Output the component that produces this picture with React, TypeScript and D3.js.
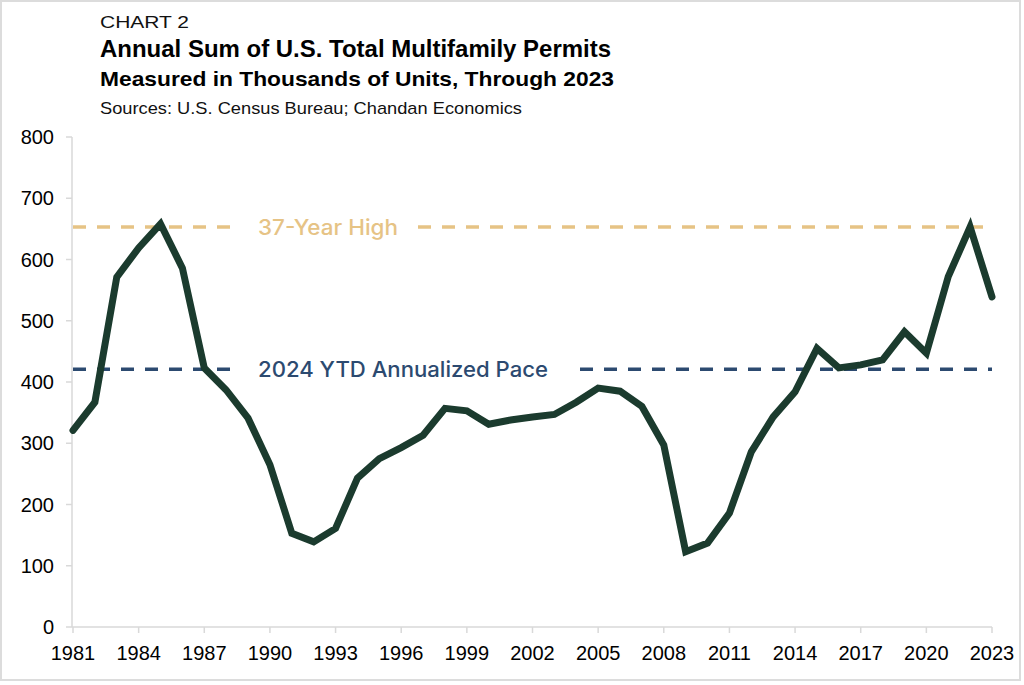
import React from "react";
import * as d3 from "d3";

const years: number[] = [
  1981, 1982, 1983, 1984, 1985, 1986, 1987, 1988, 1989, 1990, 1991, 1992, 1993, 1994,
  1995, 1996, 1997, 1998, 1999, 2000, 2001, 2002, 2003, 2004, 2005, 2006, 2007, 2008,
  2009, 2010, 2011, 2012, 2013, 2014, 2015, 2016, 2017, 2018, 2019, 2020, 2021, 2022, 2023,
];
const permits: number[] = [
  321, 367, 571, 619, 658, 586, 423, 387, 341, 265, 153, 139, 161, 243,
  275, 293, 313, 357, 353, 331, 338, 343, 347, 367, 390, 385, 360, 297,
  123, 137, 186, 286, 343, 384, 455, 423, 428, 436, 482, 447, 572, 653, 539,
];
const yTicks: number[] = [0, 100, 200, 300, 400, 500, 600, 700, 800];
const xTickYears: number[] = [1981, 1984, 1987, 1990, 1993, 1996, 1999, 2002, 2005, 2008, 2011, 2014, 2017, 2020, 2023];
const highValue = 653;
const ytdValue = 421;

const W = 1024;
const H = 685;
const FONT = "'Liberation Sans', Arial, Helvetica, sans-serif";
const LABEL_FONT = "Inter, 'Liberation Sans', Arial, sans-serif";

export default function App() {
  const x = d3.scaleLinear().domain([1981, 2023]).range([73, 992]);
  const y = d3.scaleLinear().domain([0, 800]).range([627, 137]);
  const line = d3
    .line<number>()
    .x((_, i) => x(years[i]))
    .y((d) => y(d));
  const path = line(permits) || "";

  const refLine = (
    val: number,
    color: string,
    label: string,
    labelWidth: number,
    gapStart: number,
    gapEnd: number
  ) => (
    <g>
      <line x1={x(1981)} x2={gapStart} y1={y(val)} y2={y(val)} stroke={color} strokeWidth={3.5} strokeDasharray="13 11" />
      <line x1={gapEnd} x2={x(2023)} y1={y(val)} y2={y(val)} stroke={color} strokeWidth={3.5} strokeDasharray="13 11" />
      <text
        x={258}
        y={y(val) + 8}
        fill={color}
        fontSize={21}
        fontWeight={500}
        fontFamily={LABEL_FONT}
        textLength={labelWidth}
        lengthAdjust="spacingAndGlyphs"
      >
        {label}
      </text>
    </g>
  );

  return (
    <div style={{ position: "fixed", left: 0, top: 0 }}>
      <svg width={W} height={H} style={{ display: "block", background: "#fff" }}>
        <rect x={1} y={1} width={1019} height={679} fill="#fff" stroke="#dcdcdc" strokeWidth={2} />
        <text x={100} y={28} fontSize={17} fontFamily={FONT} fill="#111" textLength={89} lengthAdjust="spacingAndGlyphs">
          CHART 2
        </text>
        <text x={100} y={57} fontSize={24} fontWeight="bold" fontFamily={FONT} fill="#000" textLength={511} lengthAdjust="spacingAndGlyphs">
          Annual Sum of U.S. Total Multifamily Permits
        </text>
        <text x={100} y={86} fontSize={21} fontWeight="bold" fontFamily={FONT} fill="#000" textLength={514} lengthAdjust="spacingAndGlyphs">
          Measured in Thousands of Units, Through 2023
        </text>
        <text x={100} y={114} fontSize={17} fontFamily={FONT} fill="#111" textLength={422} lengthAdjust="spacingAndGlyphs">
          Sources: U.S. Census Bureau; Chandan Economics
        </text>

        {/* y axis */}
        <line x1={72} x2={72} y1={y(800)} y2={y(0)} stroke="#d9d9d9" strokeWidth={1.5} />
        {yTicks.map((t) => (
          <g key={t}>
            <line x1={66} x2={72} y1={y(t)} y2={y(t)} stroke="#d9d9d9" strokeWidth={1.5} />
            <text x={54} y={y(t) + 7} textAnchor="end" fontSize={20} fontFamily={FONT} fill="#000">
              {t}
            </text>
          </g>
        ))}

        {/* x axis */}
        <line x1={72} x2={992} y1={y(0)} y2={y(0)} stroke="#d9d9d9" strokeWidth={1.5} />
        {xTickYears.map((yr) => (
          <g key={yr}>
            <line x1={x(yr)} x2={x(yr)} y1={y(0)} y2={y(0) + 6} stroke="#d9d9d9" strokeWidth={1.5} />
            <text x={x(yr)} y={660} textAnchor="middle" fontSize={20} fontFamily={FONT} fill="#000">
              {yr}
            </text>
          </g>
        ))}

        {refLine(highValue, "#E6C385", "37-Year High", 140, 240, 418)}
        {refLine(ytdValue, "#2C4A70", "2024 YTD Annualized Pace", 290, 240, 580)}

        <path d={path} fill="none" stroke="#1B3B2E" strokeWidth={7} strokeLinejoin="miter" strokeLinecap="round" />
      </svg>
    </div>
  );
}
